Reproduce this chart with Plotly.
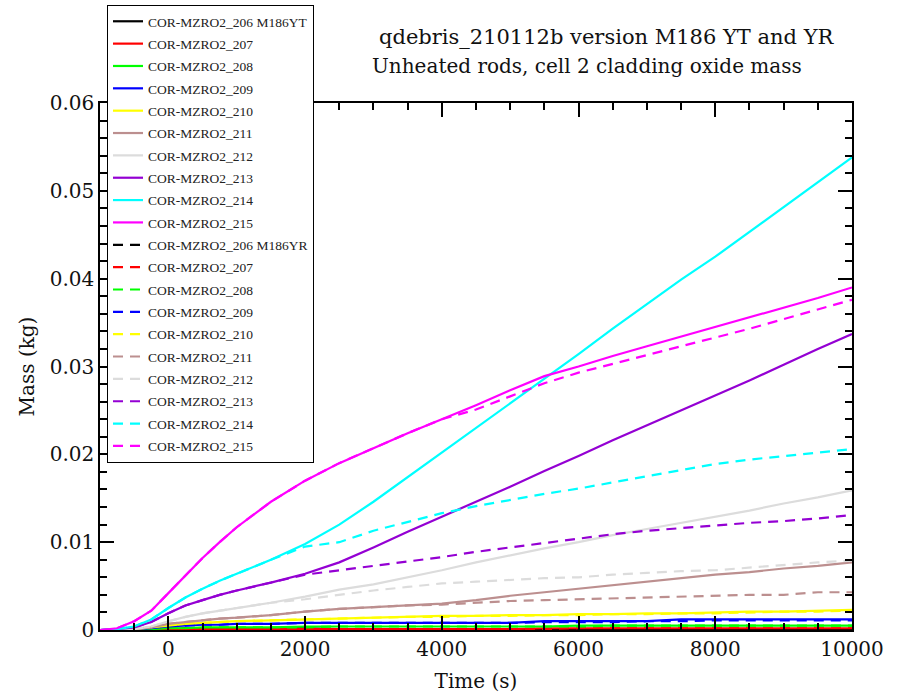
import plotly.graph_objects as go

# time grid (s)
T = [-1000, -750, -500, -250, 0, 250, 500, 750, 1000, 1500, 2000, 2500, 3000, 3500,
     4000, 4500, 5000, 5500, 6000, 6500, 7000, 7500, 8000, 8500, 9000, 9500, 10000]

# M186YT (solid)
yt_206 = [0, 0, 0, 0.0001, 0.0001, 0.0002, 0.0002, 0.0002, 0.0002, 0.0002, 0.0002, 0.0001, 0.0001, 0.0001,
          0.0001, 0.0001, 0.0001, 0.0001, 0.0001, 0.0001, 0.0001, 0.0001, 0.0001, 0.0001, 0.0001, 0.0001, 0.0001]
yt_207 = [0, 0, 0, 0, 0.0001, 0.0001, 0.0001, 0.0001, 0.0001, 0.0001, 0.0001, 0.0001, 0.0001, 0.0001,
          0.0001, 0.0001, 0.0001, 0.0002, 0.0002, 0.0002, 0.0002, 0.0002, 0.0002, 0.0002, 0.0002, 0.0002, 0.0002]
yt_208 = [0, 0, 0, 0.0001, 0.0002, 0.0002, 0.0003, 0.0003, 0.0003, 0.0003, 0.0004, 0.0004, 0.0004, 0.0004,
          0.0004, 0.0004, 0.0004, 0.0004, 0.0005, 0.0005, 0.0005, 0.0005, 0.0005, 0.0005, 0.0005, 0.0005, 0.0005]
yt_209 = [0, 0, 0.0001, 0.0002, 0.0004, 0.0005, 0.0006, 0.0006, 0.0007, 0.0007, 0.0008, 0.0008, 0.0008, 0.0008,
          0.0008, 0.0008, 0.0008, 0.0010, 0.0010, 0.0010, 0.0010, 0.0012, 0.0012, 0.0012, 0.0012, 0.0012, 0.0012]
yt_210 = [0, 0, 0.0001, 0.0003, 0.0005, 0.0007, 0.0008, 0.0009, 0.0010, 0.0011, 0.0012, 0.0013, 0.0014, 0.0015,
          0.0016, 0.0016, 0.0017, 0.0017, 0.0018, 0.0018, 0.0019, 0.0019, 0.0020, 0.0021, 0.0021, 0.0022, 0.0023]
yt_211 = [0, 0, 0.0001, 0.0003, 0.0007, 0.0009, 0.0011, 0.0013, 0.0014, 0.0017, 0.0021, 0.0024, 0.0026, 0.0028,
          0.0030, 0.0034, 0.0039, 0.0043, 0.0047, 0.0051, 0.0055, 0.0059, 0.0063, 0.0066, 0.0070, 0.0073, 0.0077]
yt_212 = [0, 0, 0.0001, 0.0004, 0.0010, 0.0015, 0.0019, 0.0022, 0.0025, 0.0031, 0.0038, 0.0046, 0.0052, 0.0060,
          0.0068, 0.0077, 0.0085, 0.0093, 0.0100, 0.0108, 0.0115, 0.0122, 0.0129, 0.0136, 0.0144, 0.0151, 0.0159]
yt_213 = [0, 0.0001, 0.0003, 0.0009, 0.0019, 0.0028, 0.0034, 0.0040, 0.0045, 0.0054, 0.0064, 0.0077, 0.0094, 0.0112,
          0.0129, 0.0146, 0.0163, 0.0181, 0.0198, 0.0216, 0.0233, 0.0250, 0.0267, 0.0284, 0.0302, 0.0320, 0.0337]
yt_214 = [0, 0.0001, 0.0004, 0.0012, 0.0025, 0.0037, 0.0047, 0.0056, 0.0064, 0.0080, 0.0098, 0.0120, 0.0146, 0.0174,
          0.0203, 0.0231, 0.0259, 0.0287, 0.0314, 0.0343, 0.0371, 0.0399, 0.0425, 0.0453, 0.0481, 0.0510, 0.0538]
yt_215 = [0, 0.0002, 0.0010, 0.0022, 0.0042, 0.0062, 0.0082, 0.0100, 0.0117, 0.0146, 0.0170, 0.0190, 0.0207, 0.0224,
          0.0240, 0.0256, 0.0273, 0.0289, 0.0300, 0.0312, 0.0323, 0.0334, 0.0345, 0.0356, 0.0367, 0.0378, 0.0390]

# M186YR (dashed)
yr_206 = [0, 0, 0, 0.0001, 0.0001, 0.0001, 0.0001, 0.0001, 0.0001, 0.0001, 0.0001, 0.0001, 0.0001, 0.0001,
          0.0001, 0.0001, 0.0001, 0.0001, 0.0001, 0.0001, 0.0001, 0.0001, 0.0001, 0.0001, 0.0001, 0.0001, 0.0001]
yr_207 = [0, 0, 0, 0, 0.0001, 0.0001, 0.0001, 0.0001, 0.0001, 0.0001, 0.0001, 0.0001, 0.0001, 0.0001,
          0.0001, 0.0001, 0.0001, 0.0001, 0.0002, 0.0002, 0.0002, 0.0002, 0.0002, 0.0002, 0.0002, 0.0002, 0.0002]
yr_208 = [0, 0, 0, 0.0001, 0.0002, 0.0002, 0.0003, 0.0003, 0.0003, 0.0003, 0.0003, 0.0004, 0.0004, 0.0004,
          0.0004, 0.0004, 0.0004, 0.0004, 0.0004, 0.0005, 0.0005, 0.0005, 0.0005, 0.0005, 0.0005, 0.0005, 0.0005]
yr_209 = [0, 0, 0.0001, 0.0002, 0.0004, 0.0005, 0.0006, 0.0006, 0.0007, 0.0007, 0.0008, 0.0008, 0.0008, 0.0008,
          0.0008, 0.0008, 0.0008, 0.0009, 0.0009, 0.0009, 0.0010, 0.0010, 0.0011, 0.0011, 0.0011, 0.0011, 0.0011]
yr_210 = [0, 0, 0.0001, 0.0003, 0.0005, 0.0007, 0.0008, 0.0009, 0.0010, 0.0011, 0.0012, 0.0013, 0.0014, 0.0015,
          0.0015, 0.0016, 0.0016, 0.0017, 0.0017, 0.0018, 0.0018, 0.0019, 0.0019, 0.0020, 0.0021, 0.0021, 0.0022]
yr_211 = [0, 0, 0.0001, 0.0003, 0.0007, 0.0009, 0.0011, 0.0013, 0.0014, 0.0017, 0.0021, 0.0024, 0.0026, 0.0028,
          0.0029, 0.0031, 0.0033, 0.0034, 0.0035, 0.0036, 0.0037, 0.0038, 0.0039, 0.0040, 0.0040, 0.0043, 0.0043]
yr_212 = [0, 0, 0.0001, 0.0004, 0.0010, 0.0015, 0.0019, 0.0022, 0.0025, 0.0031, 0.0035, 0.0040, 0.0045, 0.0049,
          0.0053, 0.0055, 0.0057, 0.0059, 0.0060, 0.0063, 0.0065, 0.0067, 0.0068, 0.0071, 0.0074, 0.0077, 0.0079]
yr_213 = [0, 0.0001, 0.0003, 0.0009, 0.0019, 0.0028, 0.0034, 0.0040, 0.0045, 0.0054, 0.0063, 0.0068, 0.0073, 0.0078,
          0.0083, 0.0089, 0.0094, 0.0099, 0.0104, 0.0109, 0.0113, 0.0116, 0.0119, 0.0122, 0.0124, 0.0127, 0.0131]
yr_214 = [0, 0.0001, 0.0004, 0.0012, 0.0025, 0.0037, 0.0047, 0.0056, 0.0064, 0.0080, 0.0095, 0.0100, 0.0113, 0.0123,
          0.0133, 0.0141, 0.0148, 0.0155, 0.0161, 0.0168, 0.0175, 0.0182, 0.0189, 0.0194, 0.0198, 0.0202, 0.0206]
yr_215 = [0, 0.0002, 0.0010, 0.0022, 0.0042, 0.0062, 0.0082, 0.0100, 0.0117, 0.0146, 0.0170, 0.0190, 0.0207, 0.0224,
          0.0240, 0.0251, 0.0266, 0.0281, 0.0293, 0.0303, 0.0313, 0.0323, 0.0333, 0.0343, 0.0354, 0.0365, 0.0376]

names_yt = ["COR-MZRO2_206 M186YT", "COR-MZRO2_207", "COR-MZRO2_208", "COR-MZRO2_209", "COR-MZRO2_210",
            "COR-MZRO2_211", "COR-MZRO2_212", "COR-MZRO2_213", "COR-MZRO2_214", "COR-MZRO2_215"]
names_yr = ["COR-MZRO2_206 M186YR", "COR-MZRO2_207", "COR-MZRO2_208", "COR-MZRO2_209", "COR-MZRO2_210",
            "COR-MZRO2_211", "COR-MZRO2_212", "COR-MZRO2_213", "COR-MZRO2_214", "COR-MZRO2_215"]
colors = ["#000000", "#ff0000", "#00ff00", "#0000ff", "#ffff00",
          "#bc8f8f", "#dcdcdc", "#9400d3", "#00ffff", "#ff00ff"]

series_yt = [yt_206, yt_207, yt_208, yt_209, yt_210, yt_211, yt_212, yt_213, yt_214, yt_215]
series_yr = [yr_206, yr_207, yr_208, yr_209, yr_210, yr_211, yr_212, yr_213, yr_214, yr_215]

FONT = "DejaVu Serif"
LFONT = "Liberation Serif"

fig = go.Figure()
for i, (nm, ys, c) in enumerate(zip(names_yt, series_yt, colors)):
    fig.add_trace(go.Scatter(x=T, y=ys, mode="lines", name=nm, legendgroup=f"yt{i}",
                             line=dict(color=c, width=2.2)))
for i, (nm, ys, c) in enumerate(zip(names_yr, series_yr, colors)):
    fig.add_trace(go.Scatter(x=T, y=ys, mode="lines", name=nm, legendgroup=f"yr{i}",
                             line=dict(color=c, width=2.2, dash="10px,7px")))

axis_common = dict(
    showgrid=False, zeroline=False, showline=True, linecolor="black", linewidth=1.5,
    mirror="ticks", ticks="inside", ticklen=14, tickwidth=1.5, tickcolor="black",
    tickfont=dict(family=FONT, size=20, color="#111"), automargin=False,
)

fig.update_layout(
    width=900, height=693,
    margin=dict(l=100, r=48, t=103, b=63, autoexpand=False),
    paper_bgcolor="white", plot_bgcolor="white",
    showlegend=True,
    legend=dict(
        x=7 / 752, y=(630 - 5) / 527, xanchor="left", yanchor="top",
        bgcolor="white", bordercolor="black", borderwidth=1,
        font=dict(family=LFONT, size=13.5, color="#222"),
        tracegroupgap=1.8, maxheight=650,
    ),
    xaxis=dict(
        range=[-1000, 10000], tick0=0, dtick=2000, tickformat="d",
        minor=dict(tick0=0, dtick=500, ticks="inside", ticklen=7, tickwidth=1.5, tickcolor="black"),
        title=dict(text="Time (s)", font=dict(family=FONT, size=20, color="#111"), standoff=14),
        **axis_common,
    ),
    yaxis=dict(
        range=[0, 0.06], tick0=0, dtick=0.01,
        minor=dict(tick0=0, dtick=0.002, ticks="inside", ticklen=7, tickwidth=1.5, tickcolor="black"),
        title=dict(text="Mass (kg)", font=dict(family=FONT, size=20, color="#111"), standoff=10),
        **axis_common,
    ),
    annotations=[
        dict(text="qdebris_210112b version M186 YT and YR", xref="paper", yref="paper",
             x=(377 - 100) / 752, y=(630 - 51) / 527, xanchor="left", yanchor="bottom",
             showarrow=False, font=dict(family=FONT, size=21, color="#111")),
        dict(text="Unheated rods, cell 2 cladding oxide mass", xref="paper", yref="paper",
             x=(370 - 100) / 752, y=(630 - 80) / 527, xanchor="left", yanchor="bottom",
             showarrow=False, font=dict(family=FONT, size=20, color="#111")),
    ],
)

fig.write_html("out.html")
